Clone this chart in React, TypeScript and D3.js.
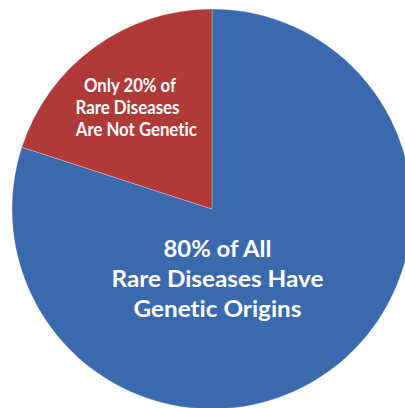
import React from "react";
import * as d3 from "d3";

const categories = ["Genetic Origins", "Not Genetic"];
const values = [80, 20];
const colors = ["#3A6AAD", "#B03A38"];
const labelGenetic = ["80% of All", "Rare Diseases Have", "Genetic Origins"];
const labelNotGenetic = ["Only 20% of", "Rare Diseases", "Are Not Genetic"];

const W = 405;
const H = 408;
const cx = 212;
const cy = 209;
const R = 200;

const geneticWidths = [108, 212, 168];
const notGeneticWidths = [92, 104, 121];
const notGeneticX = [130, 127.5, 136.3];

export default function App() {
  const pie = d3.pie<number>().sort(null).value((d) => d)(values);
  const arc = d3.arc<d3.PieArcDatum<number>>().innerRadius(0).outerRadius(R);
  const font = "Lato, 'Open Sans', sans-serif";
  const textStyle = { fontVariantLigatures: "none" as const, fontFeatureSettings: "'liga' 0" };
  return (
    <svg
      width={W}
      height={H}
      style={{ position: "absolute", left: 0, top: 0, background: "#fff" }}
    >
      <g transform={`translate(${cx},${cy})`}>
        {pie.map((p, i) => (
          <path
            key={categories[i]}
            d={arc(p) || ""}
            fill={colors[i]}
            stroke="#ffffff"
            strokeOpacity={0.35}
            strokeWidth={0.8}
          />
        ))}
      </g>
      <g fill="#fff" fontFamily={font} fontWeight={700} fontSize={23.5} textAnchor="middle" style={textStyle}>
        {labelGenetic.map((t, i) => (
          <text
            key={t}
            x={217.5}
            y={256.7 + i * 30}
            textLength={geneticWidths[i]}
            lengthAdjust="spacingAndGlyphs"
          >
            {t}
          </text>
        ))}
      </g>
      <g fill="#fff" fontFamily={font} fontWeight={700} fontSize={18} textAnchor="middle" style={textStyle}>
        {labelNotGenetic.map((t, i) => (
          <text
            key={t}
            x={notGeneticX[i]}
            y={91.7 + i * 22.2}
            textLength={notGeneticWidths[i]}
            lengthAdjust="spacingAndGlyphs"
          >
            {t}
          </text>
        ))}
      </g>
    </svg>
  );
}
